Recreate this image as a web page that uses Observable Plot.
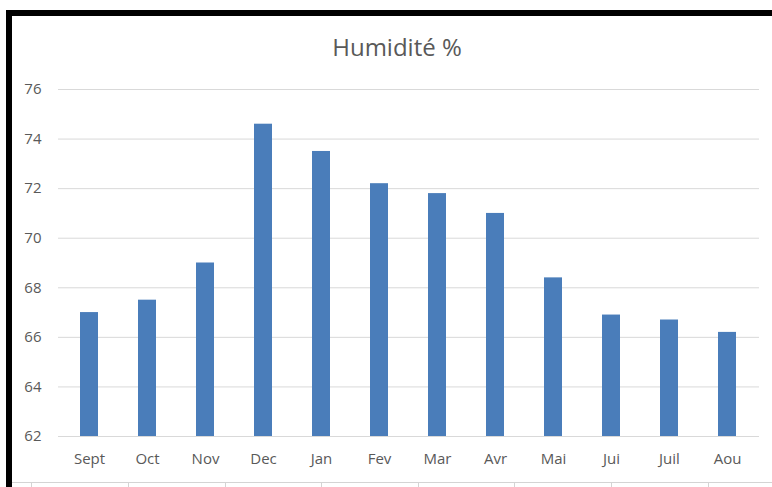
<!DOCTYPE html>
<html>
<head>
<meta charset="utf-8">
<script src="https://cdn.jsdelivr.net/npm/d3@7"></script>
<script src="https://cdn.jsdelivr.net/npm/@observablehq/plot@0.6"></script>
<style>
  html, body { margin: 0; padding: 0; background: #fff; }
  #page { position: relative; width: 772px; height: 487px; overflow: hidden; font-family: "Open Sans", sans-serif; }
  #head { height: 64px; position: relative; }
  #title { position: absolute; left: 12px; width: 770px; top: 35px; line-height: 24px; text-align: center;
           font-size: 24px; color: #595959; }
  #frame { position: absolute; left: 6px; top: 10px; right: -10px; bottom: -10px;
           border-top: 6px solid #000; border-left: 6px solid #000; pointer-events: none; z-index: 2; }
  #sheet { position: absolute; left: 12px; right: 0; top: 482px; height: 5px; border-top: 1px solid #d4d4d4;
           background: repeating-linear-gradient(to right, transparent 0 19.5px, #d4d4d4 19.5px 20.5px, transparent 20.5px 96.6px); z-index: 1; }
  #chart svg { display: block; }
</style>
</head>
<body>
<div id="page">
  <div id="head"><div id="title">Humidité %</div></div>
  <div id="chart"></div>
  <div id="sheet"></div>
  <div id="frame"></div>
</div>
<script>
// Monthly relative humidity (%), September to August
const months = ["Sept", "Oct", "Nov", "Dec", "Jan", "Fev", "Mar", "Avr", "Mai", "Jui", "Juil", "Aou"];
const humidity = [67.0, 67.5, 69.0, 74.6, 73.5, 72.2, 71.8, 71.0, 68.4, 66.9, 66.7, 66.2];
const yTicks = [62, 64, 66, 68, 70, 72, 74, 76];

const rows = months.map((m, i) => ({month: m, value: humidity[i]}));
const yMin = yTicks[0];
const yMax = yTicks[yTicks.length - 1];

const chart = Plot.plot({
  width: 772,
  height: 423,
  marginTop: 25,
  marginBottom: 51,
  marginLeft: 58,
  marginRight: 13,
  style: {background: "transparent", fontFamily: "Open Sans, sans-serif", fontSize: "15px", color: "#595959"},
  x: {domain: months, paddingInner: 0.683, paddingOuter: 0.3415, tickSize: 0, tickPadding: 17, label: null},
  y: {domain: [yMin, yMax], ticks: yTicks, tickSize: 0, tickPadding: 17, label: null, tickFormat: d => String(d)},
  marks: [
    Plot.ruleY(yTicks, {stroke: "#d9d9d9", strokeWidth: 1}),
    Plot.barY(rows, {x: "month", y1: () => yMin, y2: "value", fill: "#4a7dba"})
  ]
});
document.getElementById("chart").appendChild(chart);
</script>
</body>
</html>
